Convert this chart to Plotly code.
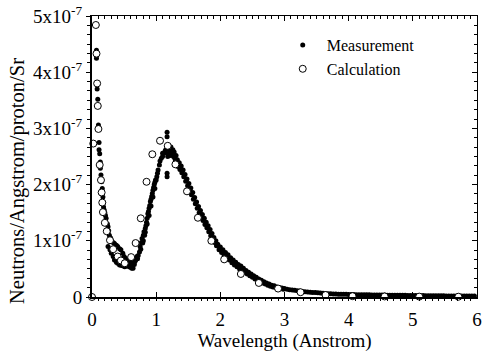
import plotly.graph_objects as go

# ---- data (values in units of 1e-7) ----
meas_x = [
    # spike
    0.07, 0.07, 0.08, 0.09, 0.10, 0.11, 0.11, 0.12, 0.13, 0.13, 0.14, 0.15, 0.16, 0.16, 0.17, 0.18, 0.18, 0.19, 0.20, 0.21,
    # trough upper
    0.22, 0.24, 0.25, 0.26, 0.27, 0.29, 0.30, 0.33, 0.35, 0.38, 0.40, 0.43, 0.45, 0.48, 0.50, 0.52, 0.54, 0.56, 0.58, 0.60, 0.62,
    # trough lower
    0.25, 0.28, 0.30, 0.33, 0.35, 0.38, 0.40, 0.43, 0.46, 0.49, 0.51, 0.54, 0.56, 0.58, 0.60, 0.62, 0.63, 0.64, 0.66, 0.67, 0.68, 0.69, 0.70, 0.71,
    # rising side
    0.72, 0.74, 0.75, 0.76, 0.77, 0.78, 0.79, 0.80, 0.81, 0.82, 0.83, 0.84, 0.85, 0.86, 0.87, 0.88, 0.89, 0.90, 0.91, 0.92, 0.93, 0.94, 0.95, 0.96, 0.97, 0.98, 0.99, 1.01,
    0.80, 0.83, 0.86, 0.89, 0.92, 0.95, 0.98,
    # peak
    1.00, 1.02, 1.03, 1.05, 1.06, 1.08, 1.10, 1.10, 1.12, 1.14, 1.15, 1.17, 1.17, 1.17, 1.17, 1.18, 1.19, 1.20, 1.21, 1.22, 1.23, 1.24, 1.25, 1.26, 1.27, 1.28, 1.29, 1.30, 1.31, 1.32,
    # descending upper
    1.33, 1.36, 1.39, 1.42, 1.45, 1.48, 1.51, 1.54, 1.57, 1.60, 1.63, 1.66, 1.69, 1.72, 1.75, 1.78, 1.81, 1.84, 1.87, 1.90, 1.93, 1.96,
    # descending lower
    1.34, 1.37, 1.40, 1.43, 1.46, 1.49, 1.52, 1.55, 1.58, 1.61, 1.64, 1.67, 1.70, 1.73, 1.76, 1.79, 1.82, 1.85, 1.88, 1.91, 1.94,
    # tail row A
    2.00, 2.04, 2.08, 2.12, 2.16, 2.20, 2.24, 2.28, 2.32, 2.36, 2.40, 2.44, 2.48, 2.52, 2.56, 2.60, 2.64, 2.68, 2.72, 2.76,
    2.80, 2.84, 2.88, 2.92, 2.96, 3.00, 3.04, 3.08, 3.12, 3.16, 3.20, 3.24, 3.28, 3.32, 3.36, 3.40, 3.44, 3.48, 3.52, 3.56,
    3.60, 3.64, 3.68, 3.72, 3.76, 3.80, 3.84, 3.88, 3.92, 3.96, 4.00, 4.04, 4.08, 4.12, 4.16, 4.20, 4.24, 4.28, 4.32, 4.36,
    4.40, 4.44, 4.48, 4.52, 4.56, 4.60, 4.64, 4.68, 4.72, 4.76, 4.80, 4.84, 4.88, 4.92, 4.96, 5.00, 5.04, 5.08, 5.12, 5.16,
    5.20, 5.24, 5.28, 5.32, 5.36, 5.40, 5.44, 5.48, 5.52, 5.56, 5.60, 5.64, 5.68, 5.72, 5.76, 5.80, 5.84, 5.88, 5.92, 5.96,
    # tail row B
    1.98, 2.02, 2.06, 2.10, 2.14, 2.18, 2.22, 2.26, 2.30, 2.34, 2.38, 2.42, 2.46, 2.50, 2.54, 2.58, 2.62, 2.66, 2.70, 2.74,
    2.78, 2.82, 2.86, 2.90, 2.94, 2.98,
]
meas_y = [
    4.39, 4.25, 3.70, 3.52, 3.06, 2.75, 2.62, 2.55, 2.40, 2.29, 2.17, 2.05, 1.93, 1.87, 1.78, 1.68, 1.60, 1.55, 1.50, 1.45,
    1.40, 1.30, 1.25, 1.18, 1.10, 1.05, 1.01, 0.97, 0.95, 0.92, 0.90, 0.86, 0.84, 0.78, 0.72, 0.69, 0.66, 0.63, 0.61, 0.66, 0.60,
    0.90, 0.84, 0.78, 0.72, 0.66, 0.62, 0.60, 0.57, 0.56, 0.55, 0.54, 0.55, 0.57, 0.54, 0.53, 0.51, 0.55, 0.51, 0.58, 0.63, 0.66, 0.69, 0.72, 0.68,
    0.74, 0.80, 0.90, 0.85, 0.97, 1.04, 0.96, 1.10, 1.16, 1.10, 1.22, 1.27, 1.33, 1.40, 1.48, 1.52, 1.58, 1.63, 1.70, 1.74, 1.79, 1.84, 1.90, 1.95, 2.00, 2.04, 2.08, 2.14,
    1.00, 1.15, 1.30, 1.45, 1.62, 1.78, 1.93,
    2.08, 2.20, 2.26, 2.35, 2.42, 2.47, 2.50, 2.56, 2.56, 2.60, 2.62, 2.93, 2.85, 2.20, 2.14, 2.50, 2.55, 2.64, 2.60, 2.52, 2.67, 2.59, 2.55, 2.62, 2.50, 2.58, 2.47, 2.44, 2.52, 2.42,
    2.44, 2.39, 2.33, 2.26, 2.18, 2.10, 2.02, 1.94, 1.86, 1.77, 1.69, 1.61, 1.54, 1.47, 1.40, 1.33, 1.27, 1.20, 1.13, 1.06, 1.00, 0.94,
    2.32, 2.27, 2.21, 2.14, 2.06, 1.98, 1.90, 1.82, 1.74, 1.66, 1.58, 1.50, 1.43, 1.36, 1.29, 1.23, 1.16, 1.09, 1.03, 0.97, 0.91,
    0.89, 0.84, 0.79, 0.75, 0.70, 0.66, 0.62, 0.58, 0.55, 0.51, 0.47, 0.44, 0.41, 0.38, 0.35, 0.32, 0.30, 0.27, 0.25, 0.23,
    0.21, 0.20, 0.18, 0.17, 0.16, 0.15, 0.14, 0.13, 0.125, 0.12, 0.11, 0.105, 0.10, 0.095, 0.09, 0.085, 0.08, 0.078, 0.075, 0.07,
    0.066, 0.063, 0.06, 0.057, 0.055, 0.053, 0.051, 0.05, 0.048, 0.047, 0.045, 0.044, 0.043, 0.042, 0.041, 0.04, 0.04, 0.039, 0.038, 0.037,
    0.036, 0.036, 0.035, 0.034, 0.034, 0.033, 0.032, 0.032, 0.031, 0.03, 0.03, 0.029, 0.029, 0.028, 0.027, 0.027, 0.026, 0.026, 0.025, 0.025,
    0.024, 0.024, 0.023, 0.023, 0.022, 0.022, 0.021, 0.021, 0.02, 0.02, 0.02, 0.019, 0.019, 0.018, 0.018, 0.018, 0.017, 0.017, 0.016, 0.016,
    0.84, 0.79, 0.74, 0.70, 0.66, 0.61, 0.57, 0.54, 0.50, 0.47, 0.44, 0.41, 0.38, 0.35, 0.32, 0.30, 0.27, 0.25, 0.23, 0.21,
    0.19, 0.18, 0.17, 0.16, 0.15, 0.14,
]

calc_x = [0.0, 0.02, 0.06, 0.07, 0.08, 0.09, 0.10, 0.12, 0.14, 0.15, 0.16, 0.17, 0.20, 0.23, 0.28, 0.33, 0.40, 0.45, 0.51,
          0.61, 0.68, 0.76, 0.85, 0.94, 1.06, 1.18, 1.30, 1.48, 1.65, 1.86, 2.06, 2.32, 2.60, 2.90, 3.25, 3.64, 4.06,
          4.56, 5.10, 5.71]
calc_y = [0.0, 2.73, 4.84, 4.33, 3.80, 3.40, 2.99, 2.35, 2.08, 1.86, 1.68, 1.51, 1.32, 1.17, 1.01, 0.85, 0.72, 0.65, 0.60,
          0.71, 0.96, 1.40, 2.05, 2.54, 2.78, 2.69, 2.36, 1.88, 1.41, 1.00, 0.67, 0.41, 0.25, 0.15, 0.085, 0.035, 0.015,
          0.01, 0.007, 0.005]

y_tick_vals = [0, 1, 2, 3, 4, 5]
y_tick_text = ["0", "1x10<sup>-7</sup>", "2x10<sup>-7</sup>", "3x10<sup>-7</sup>", "4x10<sup>-7</sup>", "5x10<sup>-7</sup>"]
x_tick_vals = [0, 1, 2, 3, 4, 5, 6]
x_title = "Wavelength (Anstrom)"
y_title = "Neutrons/Angstrom/proton/Sr"

FONT = "Liberation Serif"

fig = go.Figure()
fig.add_trace(go.Scatter(
    x=meas_x, y=meas_y, mode="markers", name="Measurement",
    marker=dict(symbol="circle", size=5, color="black", line=dict(width=0)),
    cliponaxis=False,
))
fig.add_trace(go.Scatter(
    x=calc_x, y=calc_y, mode="markers", name="Calculation",
    marker=dict(symbol="circle", size=7, color="white", line=dict(width=1, color="black")),
    cliponaxis=False,
))
# empty trace to host the top/right mirror axes
fig.add_trace(go.Scatter(x=[], y=[], xaxis="x2", yaxis="y2", showlegend=False, hoverinfo="skip"))

fig.update_layout(
    width=485, height=354,
    margin=dict(l=92, r=3, t=16, b=57),
    paper_bgcolor="white", plot_bgcolor="white",
    font=dict(family=FONT, size=16, color="black"),
    showlegend=True,
    legend=dict(x=0.485, y=0.957, xanchor="left", yanchor="top",
                bgcolor="rgba(0,0,0,0)", font=dict(family=FONT, size=16),
                itemsizing="trace", tracegroupgap=0, itemwidth=38),
    xaxis=dict(
        range=[0, 6], tickvals=x_tick_vals, showgrid=False, zeroline=False,
        showline=True, linecolor="black", linewidth=2,
        ticks="inside", ticklen=5, tickwidth=1, tickcolor="black",
        minor=dict(dtick=0.1, ticks="outside", ticklen=2, tickwidth=1, tickcolor="black"),
        title=dict(text=x_title, font=dict(family=FONT, size=19), standoff=4),
        tickfont=dict(family=FONT, size=19),
        ticklabelstandoff=4, ticklabeloverflow="allow",
    ),
    yaxis=dict(
        range=[0, 5], tickvals=y_tick_vals, ticktext=y_tick_text, showgrid=False, zeroline=False,
        showline=True, linecolor="black", linewidth=2,
        ticks="outside", ticklen=4, tickwidth=1, tickcolor="black",
        minor=dict(dtick=1/6, ticks="outside", ticklen=3, tickwidth=1, tickcolor="black"),
        tickfont=dict(family=FONT, size=19),
    ),
    xaxis2=dict(
        range=[0, 6], overlaying="x", side="top", anchor="y2", showticklabels=False,
        showgrid=False, zeroline=False, showline=True, linecolor="black", linewidth=1,
        tickvals=x_tick_vals, ticks="inside", ticklen=5, tickcolor="black",
        minor=dict(dtick=0.1, ticks="inside", ticklen=3, tickcolor="black"),
    ),
    yaxis2=dict(
        range=[0, 5], overlaying="y", side="right", anchor="x2", showticklabels=False,
        showgrid=False, zeroline=False, showline=True, linecolor="black", linewidth=1,
        tickvals=y_tick_vals, ticks="inside", ticklen=5, tickcolor="black",
        minor=dict(dtick=1/6, ticks="inside", ticklen=3, tickcolor="black"),
    ),
    annotations=[dict(
        text=y_title, textangle=-90, xref="paper", yref="paper",
        x=-0.192, y=0.413, xanchor="center", yanchor="middle", showarrow=False,
        font=dict(family=FONT, size=20.5, color="black"),
    )],
)

fig.write_html("out.html")
